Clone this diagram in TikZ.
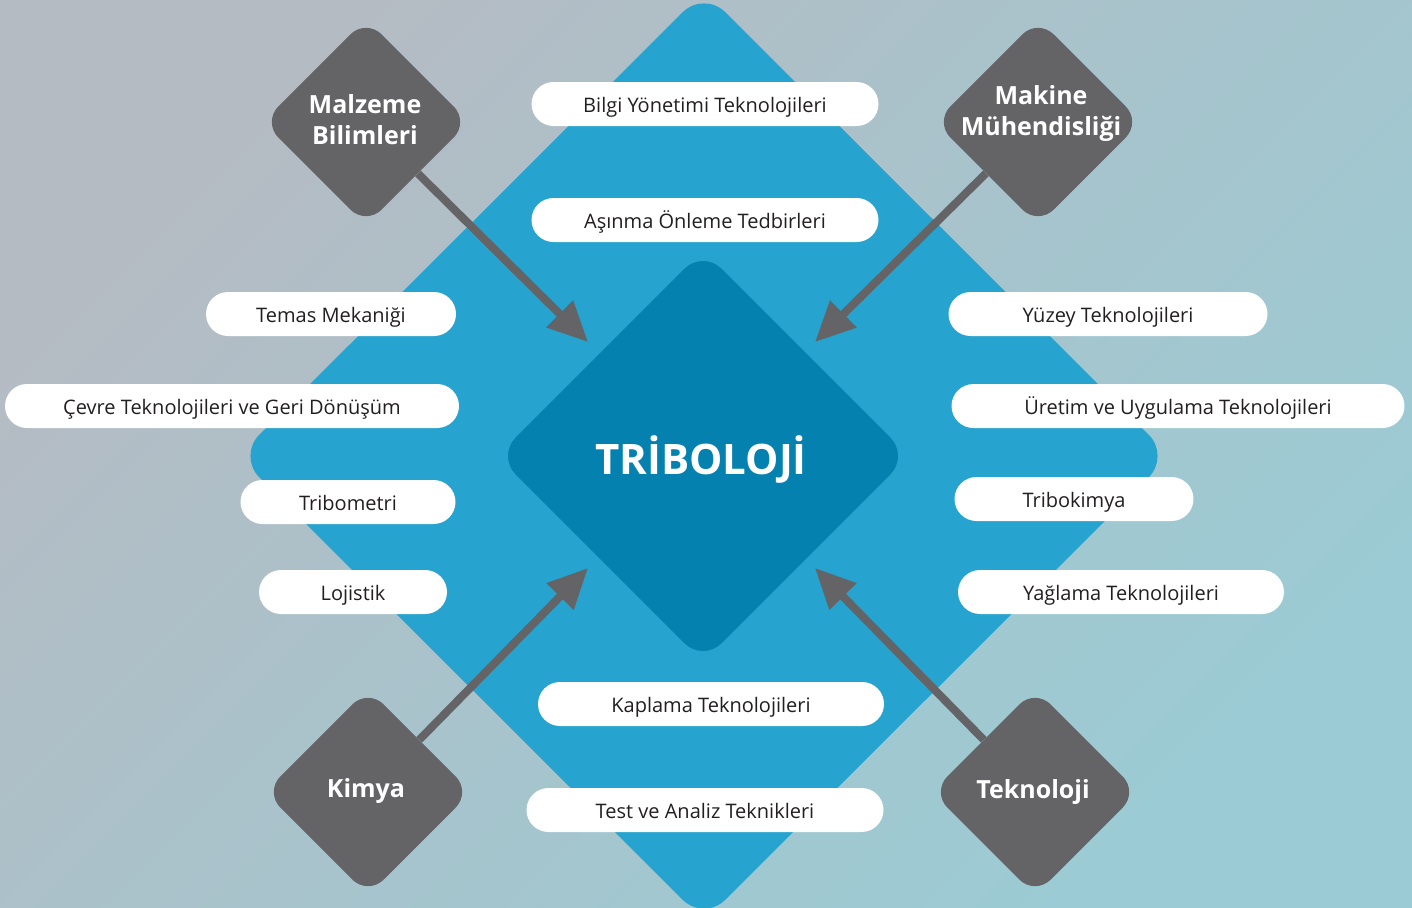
\documentclass[tikz,border=0pt]{standalone}
\usepackage{fontspec}
\setmainfont{Open Sans}
\usetikzlibrary{arrows.meta}
\definecolor{bgtl}{HTML}{B5BBC3}
\definecolor{bgbr}{HTML}{9BCBD4}
\definecolor{outerblue}{HTML}{26A3CE}
\definecolor{innerblue}{HTML}{0581B0}
\definecolor{fieldgray}{HTML}{646366}
\definecolor{textgray}{HTML}{231F20}
\begin{document}
\begin{tikzpicture}[
  x=1pt, y=-1pt,
  field/.style={rectangle, rotate=45, fill=fieldgray, rounded corners=22pt, minimum size=146pt, inner sep=0pt},
  core/.style={rectangle, rotate=45, fill=innerblue, rounded corners=26pt, minimum size=291pt, inner sep=0pt},
  fieldlabel/.style={text=white, font=\bfseries\fontsize{25}{31}\selectfont, align=center},
  topic/.style={rectangle, fill=white, rounded corners=22pt, minimum height=44pt, inner sep=0pt, text height=20pt, text depth=4pt, text=textgray, font=\fontsize{20}{24}\selectfont},
  link/.style={draw=fieldgray, line width=8pt, -{Triangle[length=40pt, width=36pt]}}
]
  \useasboundingbox (0,0) rectangle (1412,907);
  \shade[top color=bgtl, bottom color=bgbr, shading angle=45] (0,0) rectangle (1412,907);
  \fill[outerblue, rounded corners=30pt] (704,-9) -- (1170,456) -- (704,921) -- (238,456) -- cycle;

  \node[core] (tribo) at (703,456) {};
  \node[text=white, font=\bfseries\fontsize{42}{46}\selectfont] (tribolbl) at (701,459) {TRİBOLOJİ};

  \node[topic, minimum width=347pt] (bilgi) at (705,104) {Bilgi Yönetimi Teknolojileri};
  \node[topic, minimum width=347pt] (asinma) at (705,220) {Aşınma Önleme Tedbirleri};
  \node[topic, minimum width=250pt] (temas) at (331,314) {Temas Mekaniği};
  \node[topic, minimum width=454pt] (cevre) at (232,406) {Çevre Teknolojileri ve Geri Dönüşüm};
  \node[topic, minimum width=215pt] (tribometri) at (348,502) {Tribometri};
  \node[topic, minimum width=188pt] (lojistik) at (353,592) {Lojistik};
  \node[topic, minimum width=319pt] (yuzey) at (1108,314) {Yüzey Teknolojileri};
  \node[topic, minimum width=453pt] (uretim) at (1178,406) {Üretim ve Uygulama Teknolojileri};
  \node[topic, minimum width=239pt] (tribokimya) at (1074,499) {Tribokimya};
  \node[topic, minimum width=326pt] (yaglama) at (1121,592) {Yağlama Teknolojileri};
  \node[topic, minimum width=346pt] (kaplama) at (711,704) {Kaplama Teknolojileri};
  \node[topic, minimum width=357pt] (test) at (705,810) {Test ve Analiz Teknikleri};

  \node[field] (malzeme) at (366,122) {};
  \node[field] (makine) at (1038,122) {};
  \node[field] (kimya) at (368,792) {};
  \node[field] (teknoloji) at (1035,792) {};
  \node[fieldlabel] at (365,120) {Malzeme\\Bilimleri};
  \node[fieldlabel] at (1041,114) {Makine\\Mühendisliği};
  \node[fieldlabel] at (366,791) {Kimya};
  \node[fieldlabel] at (1033,792) {Teknoloji};

  \coordinate (tipnw) at (588,342);
  \coordinate (tipne) at (815,342);
  \coordinate (tipsw) at (588,568);
  \coordinate (tipse) at (815,568);
  \draw[link] (malzeme) -- (tipnw);
  \draw[link] (makine) -- (tipne);
  \draw[link] (kimya) -- (tipsw);
  \draw[link] (teknoloji) -- (tipse);
\end{tikzpicture}
\end{document}
